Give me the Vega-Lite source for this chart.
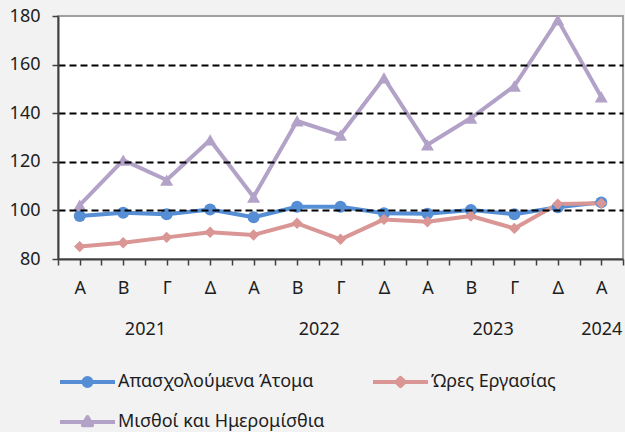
{
  "$schema": "https://vega.github.io/schema/vega-lite/v6.json",
  "width": 565,
  "height": 243,
  "autosize": "none",
  "padding": {"left": 58, "top": 16, "right": 2, "bottom": 173},
  "background": "#f2f2f2",
  "config": {
    "view": {"fill": "white", "stroke": "#a0a0a0", "strokeWidth": 2},
    "font": "Noto Sans",
    "legend": {"labelFont": "Noto Sans", "labelColor": "#1e1e1e"}
  },
  "datasets": {
    "main": [
      {"t": 1, "year": "2021", "quarter": "Α", "series": "Απασχολούμενα Άτομα", "value": 97.7},
      {"t": 2, "year": "2021", "quarter": "Β", "series": "Απασχολούμενα Άτομα", "value": 99.0},
      {"t": 3, "year": "2021", "quarter": "Γ", "series": "Απασχολούμενα Άτομα", "value": 98.4},
      {"t": 4, "year": "2021", "quarter": "Δ", "series": "Απασχολούμενα Άτομα", "value": 100.4},
      {"t": 5, "year": "2022", "quarter": "Α", "series": "Απασχολούμενα Άτομα", "value": 97.2},
      {"t": 6, "year": "2022", "quarter": "Β", "series": "Απασχολούμενα Άτομα", "value": 101.5},
      {"t": 7, "year": "2022", "quarter": "Γ", "series": "Απασχολούμενα Άτομα", "value": 101.5},
      {"t": 8, "year": "2022", "quarter": "Δ", "series": "Απασχολούμενα Άτομα", "value": 98.8},
      {"t": 9, "year": "2023", "quarter": "Α", "series": "Απασχολούμενα Άτομα", "value": 98.6},
      {"t": 10, "year": "2023", "quarter": "Β", "series": "Απασχολούμενα Άτομα", "value": 100.2},
      {"t": 11, "year": "2023", "quarter": "Γ", "series": "Απασχολούμενα Άτομα", "value": 98.4},
      {"t": 12, "year": "2023", "quarter": "Δ", "series": "Απασχολούμενα Άτομα", "value": 101.3},
      {"t": 13, "year": "2024", "quarter": "Α", "series": "Απασχολούμενα Άτομα", "value": 103.3},
      {"t": 1, "year": "2021", "quarter": "Α", "series": "Ώρες Εργασίας", "value": 85.1},
      {"t": 2, "year": "2021", "quarter": "Β", "series": "Ώρες Εργασίας", "value": 86.7},
      {"t": 3, "year": "2021", "quarter": "Γ", "series": "Ώρες Εργασίας", "value": 88.9},
      {"t": 4, "year": "2021", "quarter": "Δ", "series": "Ώρες Εργασίας", "value": 91.0},
      {"t": 5, "year": "2022", "quarter": "Α", "series": "Ώρες Εργασίας", "value": 89.9},
      {"t": 6, "year": "2022", "quarter": "Β", "series": "Ώρες Εργασίας", "value": 94.7},
      {"t": 7, "year": "2022", "quarter": "Γ", "series": "Ώρες Εργασίας", "value": 88.1},
      {"t": 8, "year": "2022", "quarter": "Δ", "series": "Ώρες Εργασίας", "value": 96.3},
      {"t": 9, "year": "2023", "quarter": "Α", "series": "Ώρες Εργασίας", "value": 95.3},
      {"t": 10, "year": "2023", "quarter": "Β", "series": "Ώρες Εργασίας", "value": 97.7},
      {"t": 11, "year": "2023", "quarter": "Γ", "series": "Ώρες Εργασίας", "value": 92.6},
      {"t": 12, "year": "2023", "quarter": "Δ", "series": "Ώρες Εργασίας", "value": 102.6},
      {"t": 13, "year": "2024", "quarter": "Α", "series": "Ώρες Εργασίας", "value": 102.9},
      {"t": 1, "year": "2021", "quarter": "Α", "series": "Μισθοί και Ημερομίσθια", "value": 102.2},
      {"t": 2, "year": "2021", "quarter": "Β", "series": "Μισθοί και Ημερομίσθια", "value": 120.7},
      {"t": 3, "year": "2021", "quarter": "Γ", "series": "Μισθοί και Ημερομίσθια", "value": 112.5},
      {"t": 4, "year": "2021", "quarter": "Δ", "series": "Μισθοί και Ημερομίσθια", "value": 129.0},
      {"t": 5, "year": "2022", "quarter": "Α", "series": "Μισθοί και Ημερομίσθια", "value": 105.5},
      {"t": 6, "year": "2022", "quarter": "Β", "series": "Μισθοί και Ημερομίσθια", "value": 136.8},
      {"t": 7, "year": "2022", "quarter": "Γ", "series": "Μισθοί και Ημερομίσθια", "value": 131.0},
      {"t": 8, "year": "2022", "quarter": "Δ", "series": "Μισθοί και Ημερομίσθια", "value": 154.5},
      {"t": 9, "year": "2023", "quarter": "Α", "series": "Μισθοί και Ημερομίσθια", "value": 127.0},
      {"t": 10, "year": "2023", "quarter": "Β", "series": "Μισθοί και Ημερομίσθια", "value": 138.0},
      {"t": 11, "year": "2023", "quarter": "Γ", "series": "Μισθοί και Ημερομίσθια", "value": 151.2},
      {"t": 12, "year": "2023", "quarter": "Δ", "series": "Μισθοί και Ημερομίσθια", "value": 178.4},
      {"t": 13, "year": "2024", "quarter": "Α", "series": "Μισθοί και Ημερομίσθια", "value": 146.7}
    ]
  },
  "data": {"name": "main"},
  "encoding": {
    "y": {
      "field": "value",
      "type": "quantitative",
      "scale": {"domain": [80, 180], "nice": false, "zero": false},
      "axis": {
        "title": null,
        "values": [80, 100, 120, 140, 160, 180],
        "labelFont": "Noto Sans",
        "labelColor": "#1e1e1e",
        "labelFontSize": 18,
        "labelPadding": 12,
        "ticks": true,
        "tickColor": "#404040",
        "tickOpacity": 1,
        "tickDash": [100, 0],
        "tickSize": 6,
        "tickWidth": 1.5,
        "domain": true,
        "domainColor": "#404040",
        "domainWidth": 2,
        "grid": true,
        "gridColor": {"condition": {"test": "datum.value === 80 || datum.value === 180", "value": "transparent"}, "value": "black"},
        "gridDash": [7, 4],
        "gridWidth": 2,
        "zindex": 1
      }
    },
    "color": {
      "field": "series",
      "type": "nominal",
      "scale": {
        "domain": ["Απασχολούμενα Άτομα", "Ώρες Εργασίας", "Μισθοί και Ημερομίσθια"],
        "range": ["#558ed5", "#d99694", "#b3a2c7"]
      },
      "legend": {
        "title": null,
        "orient": "none",
        "legendX": 0,
        "legendY": 356,
        "direction": "horizontal",
        "columns": 2,
        "columnPadding": 46,
        "rowPadding": 20,
        "clipHeight": 20,
        "padding": 0,
        "labelLimit": 400,
        "symbolSize": 3025,
        "symbolStrokeWidth": 4,
        "labelFontSize": 18,
        "labelOffset": 1,
        "encode": {
          "symbols": {
            "update": {
              "shape": {"signal": "datum.value === 'Απασχολούμενα Άτομα' ? 'M-1,0H1M0.145,0A0.145,0.145,0,1,1,-0.145,0A0.145,0.145,0,1,1,0.145,0Z' : datum.value === 'Ώρες Εργασίας' ? 'M-1,0H1M0,-0.15L0.15,0L0,0.15L-0.15,0Z' : 'M-1,0H1M0,-0.18L0.17,0.12L-0.17,0.12Z'"},
              "fill": {"scale": "color", "field": "value"},
              "stroke": {"scale": "color", "field": "value"},
              "strokeWidth": {"value": 4},
              "strokeJoin": {"value": "round"},
              "opacity": {"value": 1}
            }
          }
        }
      }
    }
  },
  "layer": [
    {
      "mark": {"type": "line", "strokeWidth": 4, "strokeCap": "round", "strokeJoin": "round"},
      "encoding": {
        "x": {
          "field": "t",
          "type": "quantitative",
          "scale": {"domain": [0.5, 13.5], "nice": false, "zero": false},
          "axis": {
            "orient": "bottom",
            "title": null,
            "grid": false,
            "ticks": true,
            "domain": true,
            "domainColor": "#404040",
            "tickColor": "#404040",
            "tickOpacity": 1,
            "tickDash": [100, 0],
            "values": [0.5, 1, 1.5, 2, 2.5, 3, 3.5, 4, 4.5, 5, 5.5, 6, 6.5, 7, 7.5, 8, 8.5, 9, 9.5, 10, 10.5, 11, 11.5, 12, 12.5, 13, 13.5],
            "labelExpr": "datum.value % 1 === 0 ? ['Α','Β','Γ','Δ'][(datum.value - 1) % 4] : ''",
            "labelOverlap": false,
            "labelFlush": false,
            "labelBound": false,
            "labelFont": "Noto Sans",
            "labelColor": "#1e1e1e",
            "labelFontSize": 18,
            "labelBaseline": "middle",
            "labelPadding": 23,
            "tickSize": 6,
            "tickWidth": 1.5,
            "domainWidth": 2,
            "zindex": 1,
            "encode": {
              "ticks": {
                "update": {
                  "y2": {"signal": "indexof([0.5, 4.5, 8.5, 12.5, 13.5], datum.value) >= 0 ? 84 : 6"}
                }
              }
            }
          }
        }
      }
    },
    {
      "transform": [{"filter": "datum.series === 'Απασχολούμενα Άτομα'"}],
      "mark": {"type": "point", "shape": "circle", "size": 144, "filled": true, "opacity": 1},
      "encoding": {
        "x": {
          "field": "t",
          "type": "quantitative",
          "scale": {"domain": [0.5, 13.5], "nice": false, "zero": false},
          "axis": {
            "orient": "bottom",
            "title": null,
            "grid": false,
            "domain": false,
            "ticks": false,
            "tickSize": 0,
            "values": [2.5, 6.5, 10.5, 13],
            "labelExpr": "datum.value < 4.5 ? '2021' : datum.value < 8.5 ? '2022' : datum.value < 12.5 ? '2023' : '2024'",
            "labelOverlap": false,
            "labelFlush": false,
            "labelBound": false,
            "labelFont": "Noto Sans",
            "labelColor": "#1e1e1e",
            "labelFontSize": 18,
            "labelBaseline": "middle",
            "labelPadding": 70
          }
        }
      }
    },
    {
      "transform": [{"filter": "datum.series === 'Ώρες Εργασίας'"}],
      "mark": {"type": "point", "shape": "diamond", "size": 130, "filled": true, "opacity": 1},
      "encoding": {
        "x": {"field": "t", "type": "quantitative", "scale": {"domain": [0.5, 13.5], "nice": false, "zero": false}, "axis": null}
      }
    },
    {
      "transform": [{"filter": "datum.series === 'Μισθοί και Ημερομίσθια'"}],
      "mark": {"type": "point", "shape": "triangle-up", "size": 170, "filled": true, "opacity": 1},
      "encoding": {
        "x": {"field": "t", "type": "quantitative", "scale": {"domain": [0.5, 13.5], "nice": false, "zero": false}, "axis": null}
      }
    }
  ],
  "resolve": {"scale": {"x": "independent"}, "axis": {"x": "independent"}}
}
